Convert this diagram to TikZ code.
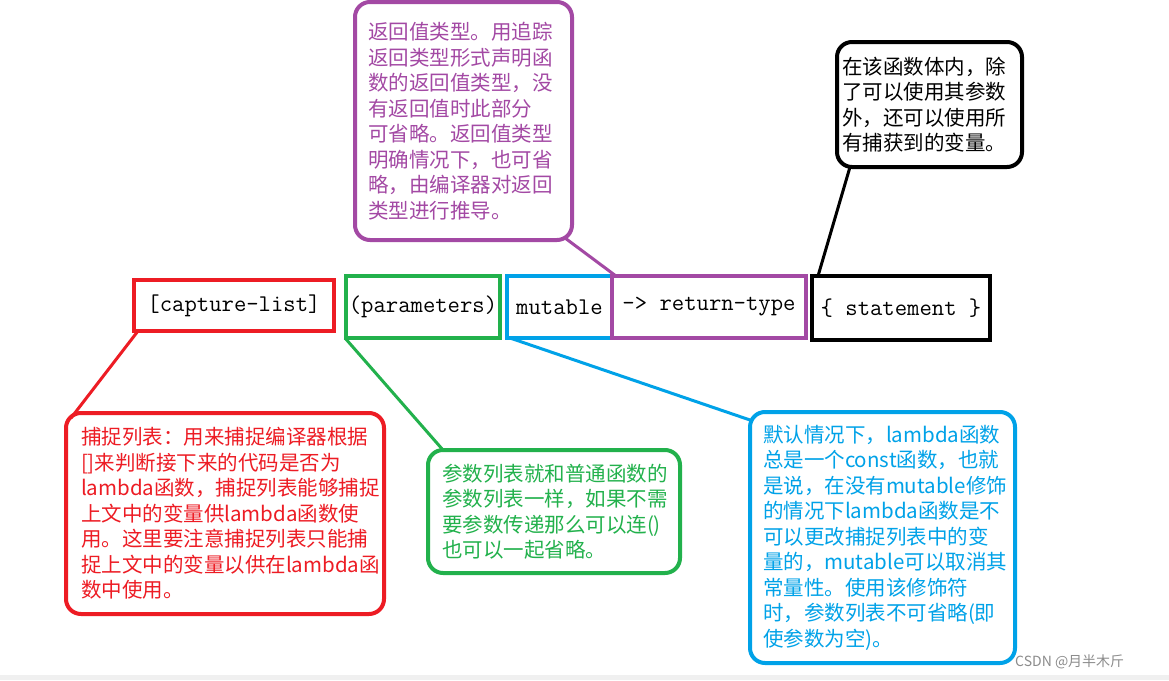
\documentclass[tikz,border=0pt]{standalone}
\usepackage{fontspec}
\setmainfont{Noto Sans CJK SC}
\usepackage{tikz}
\usetikzlibrary{positioning, calc}
\definecolor{pred}{HTML}{ED1C24}
\definecolor{pgreen}{HTML}{22B14C}
\definecolor{pblue}{HTML}{00A2E8}
\definecolor{ppurple}{HTML}{A349A4}

\begin{document}
\begin{tikzpicture}[
        x=1pt, y=-1pt,
        part/.style={draw, line width=4pt, inner sep=0pt, outer sep=0pt, font=\fontsize{24}{24}\ttfamily},
        note/.style={draw, line width=4pt, rounded corners=15pt, outer sep=0pt, align=left, inner ysep=0pt, font=\fontsize{20.5}{25.5}\selectfont},
        link/.style={line width=3pt}
    ]
    \useasboundingbox (0,0) rectangle (1169,680);
    \fill[white] (0,0) rectangle (1169,680);
    \fill[black!6] (0,675) rectangle (1169,680);

    \node[part, draw=pred, minimum width=200pt, minimum height=51pt] (cap) at (234,305.5) {[capture-list]};
    \node[part, draw=pgreen, minimum width=154pt, minimum height=62pt] (par) at (423,307) {(parameters)};
    \node[part, draw=pblue, minimum width=105pt, minimum height=62pt] (mut) at (559.5,307) {mutable};
    \node[part, draw=ppurple, minimum width=194pt, minimum height=62pt] (rtype) at (709,307) {-> return-type};
    \node[part, draw=black, minimum width=178pt, minimum height=64pt] (stm) at (901,308) {\{ statement \}};

    \node[note, draw=ppurple, text=ppurple, minimum height=238pt, inner xsep=13pt, text width=191pt] (ret) at (463.5,121) {返回值类型。用追踪\\返回类型形式声明函\\数的返回值类型，没\\有返回值时此部分\\可省略。返回值类型\\明确情况下，也可省\\略，由编译器对返回\\类型进行推导。};
    \node[note, draw=black, text=black, minimum height=125pt, inner xsep=5pt, text width=175pt] (fn) at (929.5,104.5) {在该函数体内，除\\了可以使用其参数\\外，还可以使用所\\有捕获到的变量。};
    \node[note, draw=pred, text=pred, minimum height=201pt, inner xsep=15pt, text width=288pt] (capnote) at (225,513.5) {捕捉列表：用来捕捉编译器根据\\{}[]来判断接下来的代码是否为\\lambda函数，捕捉列表能够捕捉\\上文中的变量供lambda函数使\\用。这里要注意捕捉列表只能捕\\捉上文中的变量以供在lambda函\\数中使用。};
    \node[note, draw=pgreen, text=pgreen, minimum height=123pt, inner xsep=14pt, text width=224pt] (parnote) at (554,511.5) {参数列表就和普通函数的\\参数列表一样，如果不需\\要参数传递那么可以连()\\也可以一起省略。};
    \node[note, draw=pblue, text=pblue, minimum height=251pt, inner xsep=13pt, text width=239pt] (mutnote) at (882.5,537.5) {默认情况下，lambda函数\\总是一个const函数，也就\\是说，在没有mutable修饰\\的情况下lambda函数是不\\可以更改捕捉列表中的变\\量的，mutable可以取消其\\常量性。使用该修饰符\\时，参数列表不可省略(即\\使参数为空)。};

    \node[anchor=west, inner sep=0pt, text=black!45, font=\fontsize{14}{14}\selectfont] (mark) at (1015,662) {CSDN @月半木斤};

    \draw[link, ppurple] ([shift={(-7,-2)}]ret.south east) -- ([xshift=4pt]rtype.north west);
    \draw[link, black] ([xshift=13pt]fn.south west) -- ([xshift=6pt]stm.north west);
    \draw[link, pred] ([xshift=4pt]cap.south west) -- ([shift={(5,5)}]capnote.north west);
    \draw[link, pgreen] ([xshift=-1pt]par.south west) -- ([xshift=15pt]parnote.north west);
    \draw[link, pblue] ([xshift=3pt]mut.south west) -- ([shift={(0,8)}]mutnote.north west);
\end{tikzpicture}
\end{document}
